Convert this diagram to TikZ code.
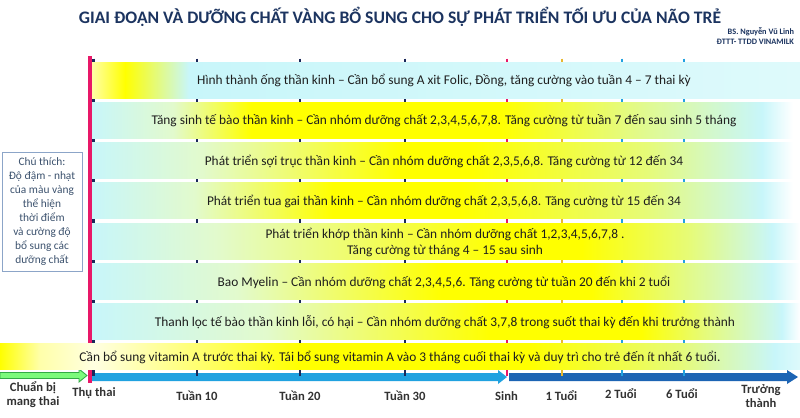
\documentclass[tikz,border=0pt]{standalone}
\usepackage{fontspec}
\setmainfont{Carlito}
\usetikzlibrary{positioning}
\definecolor{Y}{RGB}{255,255,0}
\definecolor{C}{RGB}{200,246,250}
\definecolor{W}{RGB}{255,255,255}
\definecolor{paleY}{RGB}{255,255,170}
\definecolor{creamY}{RGB}{255,255,225}
\definecolor{lightC}{RGB}{222,250,251}
\definecolor{mint}{RGB}{226,250,205}
\definecolor{limeY}{RGB}{230,251,120}
\definecolor{titleblue}{RGB}{28,52,96}
\definecolor{navydot}{RGB}{25,40,90}
\definecolor{rose}{RGB}{232,24,104}
\definecolor{gold}{RGB}{232,184,48}
\definecolor{sky}{RGB}{32,162,224}
\definecolor{ocean}{RGB}{28,100,180}
\definecolor{leaf}{RGB}{124,250,124}
\definecolor{leafedge}{RGB}{50,170,70}
\definecolor{slate}{RGB}{60,82,110}
\definecolor{boxframe}{RGB}{140,165,200}
\definecolor{ink}{RGB}{30,30,30}
\definecolor{axisgrey}{RGB}{50,50,50}
\pgfdeclarehorizontalshading{rowone}{100bp}{color(0bp)=(paleY); color(25bp)=(paleY); color(27.4bp)=(Y); color(31.9bp)=(C); color(75bp)=(lightC); color(100bp)=(lightC)}
\pgfdeclarehorizontalshading{rowtwo}{100bp}{color(0bp)=(C); color(25bp)=(C); color(30.8bp)=(mint); color(36.3bp)=(Y); color(53.9bp)=(Y); color(62.2bp)=(limeY); color(72.3bp)=(C); color(74.5bp)=(W); color(100bp)=(W)}
\pgfdeclarehorizontalshading{rowthree}{100bp}{color(0bp)=(C); color(25bp)=(C); color(32.8bp)=(mint); color(46.8bp)=(Y); color(51.8bp)=(Y); color(64.2bp)=(limeY); color(72.3bp)=(C); color(74.5bp)=(W); color(100bp)=(W)}
\pgfdeclarehorizontalshading{rowfour}{100bp}{color(0bp)=(C); color(25bp)=(C); color(32.3bp)=(mint); color(42bp)=(Y); color(51.1bp)=(Y); color(64.2bp)=(limeY); color(72.3bp)=(C); color(74.5bp)=(W); color(100bp)=(W)}
\pgfdeclarehorizontalshading{rowfive}{100bp}{color(0bp)=(C); color(25bp)=(C); color(33.8bp)=(mint); color(53.9bp)=(Y); color(59.6bp)=(Y); color(67.2bp)=(limeY); color(73bp)=(C); color(75bp)=(W); color(100bp)=(W)}
\pgfdeclarehorizontalshading{rowsix}{100bp}{color(0bp)=(C); color(25bp)=(C); color(35.3bp)=(mint); color(49.7bp)=(Y); color(60.3bp)=(Y); color(66.2bp)=(limeY); color(73bp)=(C); color(75bp)=(W); color(100bp)=(W)}
\pgfdeclarehorizontalshading{rowseven}{100bp}{color(0bp)=(C); color(25bp)=(C); color(37.3bp)=(mint); color(53.1bp)=(Y); color(63.8bp)=(Y); color(68.2bp)=(limeY); color(73.7bp)=(C); color(75bp)=(W); color(100bp)=(W)}
\pgfdeclarehorizontalshading{rowvitamin}{100bp}{color(0bp)=(Y); color(25bp)=(Y); color(27.5bp)=(paleY); color(30.9bp)=(creamY); color(43.75bp)=(Y); color(58.1bp)=(Y); color(67.5bp)=(limeY); color(73.4bp)=(C); color(75bp)=(lightC); color(100bp)=(lightC)}
\tikzstyle{base}=[inner sep=0pt, outer sep=0pt]
\tikzstyle{tickline}=[line width=2.1pt]
\tikzstyle{bartext}=[ink, font=\fontsize{9.5}{11.4}\selectfont, align=center]
\tikzstyle{axistext}=[axisgrey, font=\bfseries\fontsize{9}{10.2}\selectfont, align=center]
\tikzstyle{legendtext}=[slate, font=\fontsize{8.1}{9.96}\selectfont, align=center]
\tikzstyle{credit}=[titleblue, font=\bfseries\fontsize{5.9}{6.5}\selectfont]

\begin{document}
\begin{tikzpicture}[base, x=0.025cm, y=-0.025cm]
    \useasboundingbox (0,0) rectangle (800,417);
        \fill [white] (0,0) rectangle (800,417);
        \draw [leafedge, line width=0.6pt, fill=leaf] (0,372.5) -- (79,372.5) -- (79,369) -- (87,375.5) -- (79,382) -- (79,378.5) -- (0,378.5) -- cycle;
        \fill [sky] (92,373) -- (498,373) -- (498,370) -- (507,377) -- (498,384) -- (498,381) -- (92,381) -- cycle;
        \fill [ocean] (509,373) -- (787,373) -- (787,370) -- (798,377) -- (787,384) -- (787,381) -- (509,381) -- cycle;
        \foreach \x/\c in {93.5/navydot, 197/navydot, 300/navydot, 405/navydot, 507/rose, 562/gold, 622/sky, 684/sky}
            \draw [tickline, \c] (\x,58.5) -- (\x,375.5);
        \shade [shading=rowone] (91,62) rectangle (800,98);
        \shade [shading=rowtwo] (91,102.3) rectangle (800,138.3);
        \shade [shading=rowthree] (91,142.6) rectangle (800,178.6);
        \shade [shading=rowfour] (91,182.9) rectangle (800,218.9);
        \shade [shading=rowfive] (91,223.2) rectangle (800,259.2);
        \shade [shading=rowsix] (91,263.5) rectangle (800,299.5);
        \shade [shading=rowseven] (91,303.8) rectangle (800,339.8);
        \draw [rose, line width=2.85pt] (89.7,56) -- (89.7,383);
        \shade [shading=rowvitamin] (0,343.6) rectangle (800,369.6);
        \node [bartext] (neuraltube) at (444,80.5) {Hình thành ống thần kinh – Cần bổ sung A xit Folic, Đồng, tăng cường vào tuần 4 – 7 thai kỳ};
        \node [bartext] (neurogenesis) at (444,120.5) {Tăng sinh tế bào thần kinh – Cần nhóm dưỡng chất 2,3,4,5,6,7,8. Tăng cường từ tuần 7 đến sau sinh 5 tháng};
        \node [bartext] (axon) at (444,161) {Phát triển sợi trục thần kinh – Cần nhóm dưỡng chất 2,3,5,6,8. Tăng cường từ 12 đến 34};
        \node [bartext] (dendrite) at (444,201) {Phát triển tua gai thần kinh – Cần nhóm dưỡng chất 2,3,5,6,8. Tăng cường từ 15 đến 34};
        \node [bartext] (synapse) at (445,242.5) {Phát triển khớp thần kinh – Cần nhóm dưỡng chất 1,2,3,4,5,6,7,8 .\\Tăng cường từ tháng 4 – 15 sau sinh};
        \node [bartext] (myelin) at (444,282) {Bao Myelin – Cần nhóm dưỡng chất 2,3,4,5,6. Tăng cường từ tuần 20 đến khi 2 tuổi};
        \node [bartext] (pruning) at (445,322) {Thanh lọc tế bào thần kinh lỗi, có hại – Cần nhóm dưỡng chất 3,7,8 trong suốt thai kỳ đến khi trưởng thành};
        \node [bartext] (vitamin) at (400,357.5) {Cần bổ sung vitamin A trước thai kỳ. Tái bổ sung vitamin A vào 3 tháng cuối thai kỳ và duy trì cho trẻ đến ít nhất 6 tuổi.};
        \draw [boxframe, line width=0.6pt, fill=white] (2,152) rectangle (82,271);
        \node [legendtext] (legend) at (42,211.5) {Chú thích:\\Độ đậm - nhạt\\của màu vàng\\thể hiện\\thời điểm\\và cường độ\\bổ sung các\\dưỡng chất};
        \node [titleblue, font=\bfseries\fontsize{12.5}{15}\selectfont] (title) at (400,17) {GIAI ĐOẠN VÀ DƯỠNG CHẤT VÀNG BỔ SUNG CHO SỰ PHÁT TRIỂN TỐI ƯU CỦA NÃO TRẺ};
        \node [credit, anchor=east] (author) at (794,32) {BS. Nguyễn Vũ Linh};
        \node [credit, below=2pt of author.south east, anchor=north east] (unit) {ĐTTT- TTDD VINAMILK};
        \node [axistext] (prep) at (33,394.5) {Chuẩn bị\\mang thai};
        \node [axistext] (conception) at (94,393) {Thụ thai};
        \node [axistext] (week10) at (197,396) {Tuần 10};
        \node [axistext] (week20) at (300,396) {Tuần 20};
        \node [axistext] (week30) at (405,396) {Tuần 30};
        \node [axistext] (birth) at (506.5,396) {Sinh};
        \node [axistext] (age1) at (561.5,396) {1 Tuổi};
        \node [axistext] (age2) at (621,393.5) {2 Tuổi};
        \node [axistext] (age6) at (682,394) {6 Tuổi};
        \node [axistext] (adult) at (761,396) {Trưởng\\thành};
    \end{tikzpicture}
\end{document}
